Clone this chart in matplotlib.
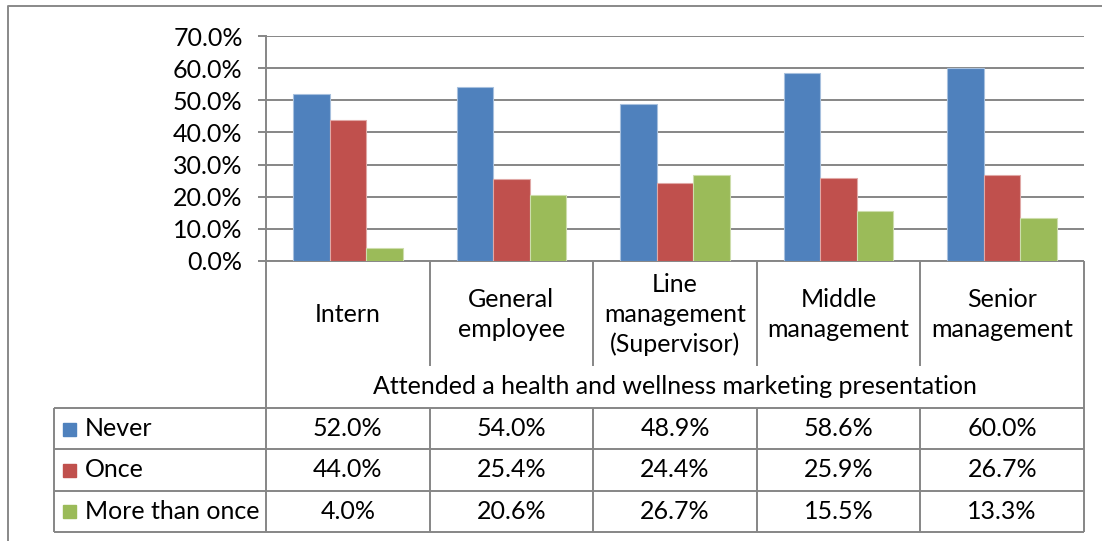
"""Grouped bar chart with an Excel-style data table underneath."""

import matplotlib

matplotlib.use("Agg")
import matplotlib.pyplot as plt
import numpy as np

CATEGORIES = [
    "Intern",
    "General\nemployee",
    "Line\nmanagement\n(Supervisor)",
    "Middle\nmanagement",
    "Senior\nmanagement",
]
SERIES = ["Never", "Once", "More than once"]
NEVER = [52.0, 54.0, 48.9, 58.6, 60.0]
ONCE = [44.0, 25.4, 24.4, 25.9, 26.7]
MORE_THAN_ONCE = [4.0, 20.6, 26.7, 15.5, 13.3]
Y_TICKS = [0, 10, 20, 30, 40, 50, 60, 70]
AXIS_TITLE = "Attended a health and wellness marketing presentation"

COLORS = ["#4F81BD", "#C0504D", "#9BBB59"]
EDGES = ["#A7C0DE", "#E0A8A6", "#CDDDAC"]
GRID = "#868686"
W, H = 1102, 541
FS = 18

plt.rcParams["font.family"] = ["Lato", "DejaVu Sans"]
plt.rcParams["font.size"] = FS

fig = plt.figure(figsize=(W / 100, H / 100), dpi=100)

# page axes in pixel coordinates for the border and the data table
page = fig.add_axes([0, 0, 1, 1], zorder=0)
page.set_xlim(0, W)
page.set_ylim(H, 0)
page.axis("off")

# plot area
x0, x1 = 266, 1084
y_top, y_zero = 36, 261
ax = fig.add_axes([x0 / W, 1 - y_zero / H, (x1 - x0) / W, (y_zero - y_top) / H], zorder=1)
ax.set_facecolor("none")

values = [NEVER, ONCE, MORE_THAN_ONCE]
n = len(CATEGORIES)
bar_w = 0.223
centers = np.arange(n) + 0.5
for j, series in enumerate(values):
    ax.bar(centers + (j - 1) * bar_w, series, width=bar_w, color=COLORS[j],
           edgecolor=EDGES[j], linewidth=0.8, zorder=2)

ax.set_xlim(0, n)
ax.set_ylim(0, 70)
ax.set_xticks([])
ax.set_yticks(Y_TICKS)
ax.set_yticklabels([f"{v:.1f}%" for v in Y_TICKS])
ax.tick_params(axis="y", length=5.8, width=1.4, color=GRID, pad=11, labelsize=FS)
ax.yaxis.grid(True, color=GRID, linewidth=1.4)
ax.set_axisbelow(True)
for side in ["top", "right", "bottom"]:
    ax.spines[side].set_visible(False)
ax.spines["left"].set_color(GRID)
ax.spines["left"].set_linewidth(1.4)

line_kw = dict(color=GRID, linewidth=1.4, solid_capstyle="butt")

# chart border
page.plot([8, 8, W], [H, 6, 6], color="#898989", linewidth=1.4)

# data table
cw = (x1 - x0) / n
label_left = 54
head_bottom, title_bottom = 366, 408
row_h = 41.3
rows_bottom = title_bottom + row_h * len(SERIES)

page.plot([x0, x1], [y_zero, y_zero], **line_kw)
for k in range(len(SERIES) + 1):
    y = title_bottom + k * row_h
    page.plot([label_left, x1], [y, y], **line_kw)
page.plot([label_left, label_left], [title_bottom, rows_bottom], **line_kw)
page.plot([x0, x0], [y_zero, rows_bottom], **line_kw)
page.plot([x1, x1], [y_zero, rows_bottom], **line_kw)
for k in range(1, n):
    x = x0 + k * cw
    page.plot([x, x], [y_zero, head_bottom], **line_kw)
    page.plot([x, x], [title_bottom, rows_bottom], **line_kw)

for k, cat in enumerate(CATEGORIES):
    page.text(x0 + (k + 0.5) * cw, (y_zero + head_bottom) / 2 + 1, cat,
              ha="center", va="center", multialignment="center", linespacing=1.35)
page.text((x0 + x1) / 2, (head_bottom + title_bottom) / 2, AXIS_TITLE,
          ha="center", va="center")

for j, name in enumerate(SERIES):
    yc = title_bottom + (j + 0.5) * row_h
    page.add_patch(plt.Rectangle((63, yc - 6), 13, 13, color=COLORS[j]))
    page.text(85, yc, name, ha="left", va="center")
    for k in range(n):
        page.text(x0 + (k + 0.5) * cw, yc, f"{values[j][k]:.1f}%",
                  ha="center", va="center")

fig.savefig("out.png", dpi=100)
